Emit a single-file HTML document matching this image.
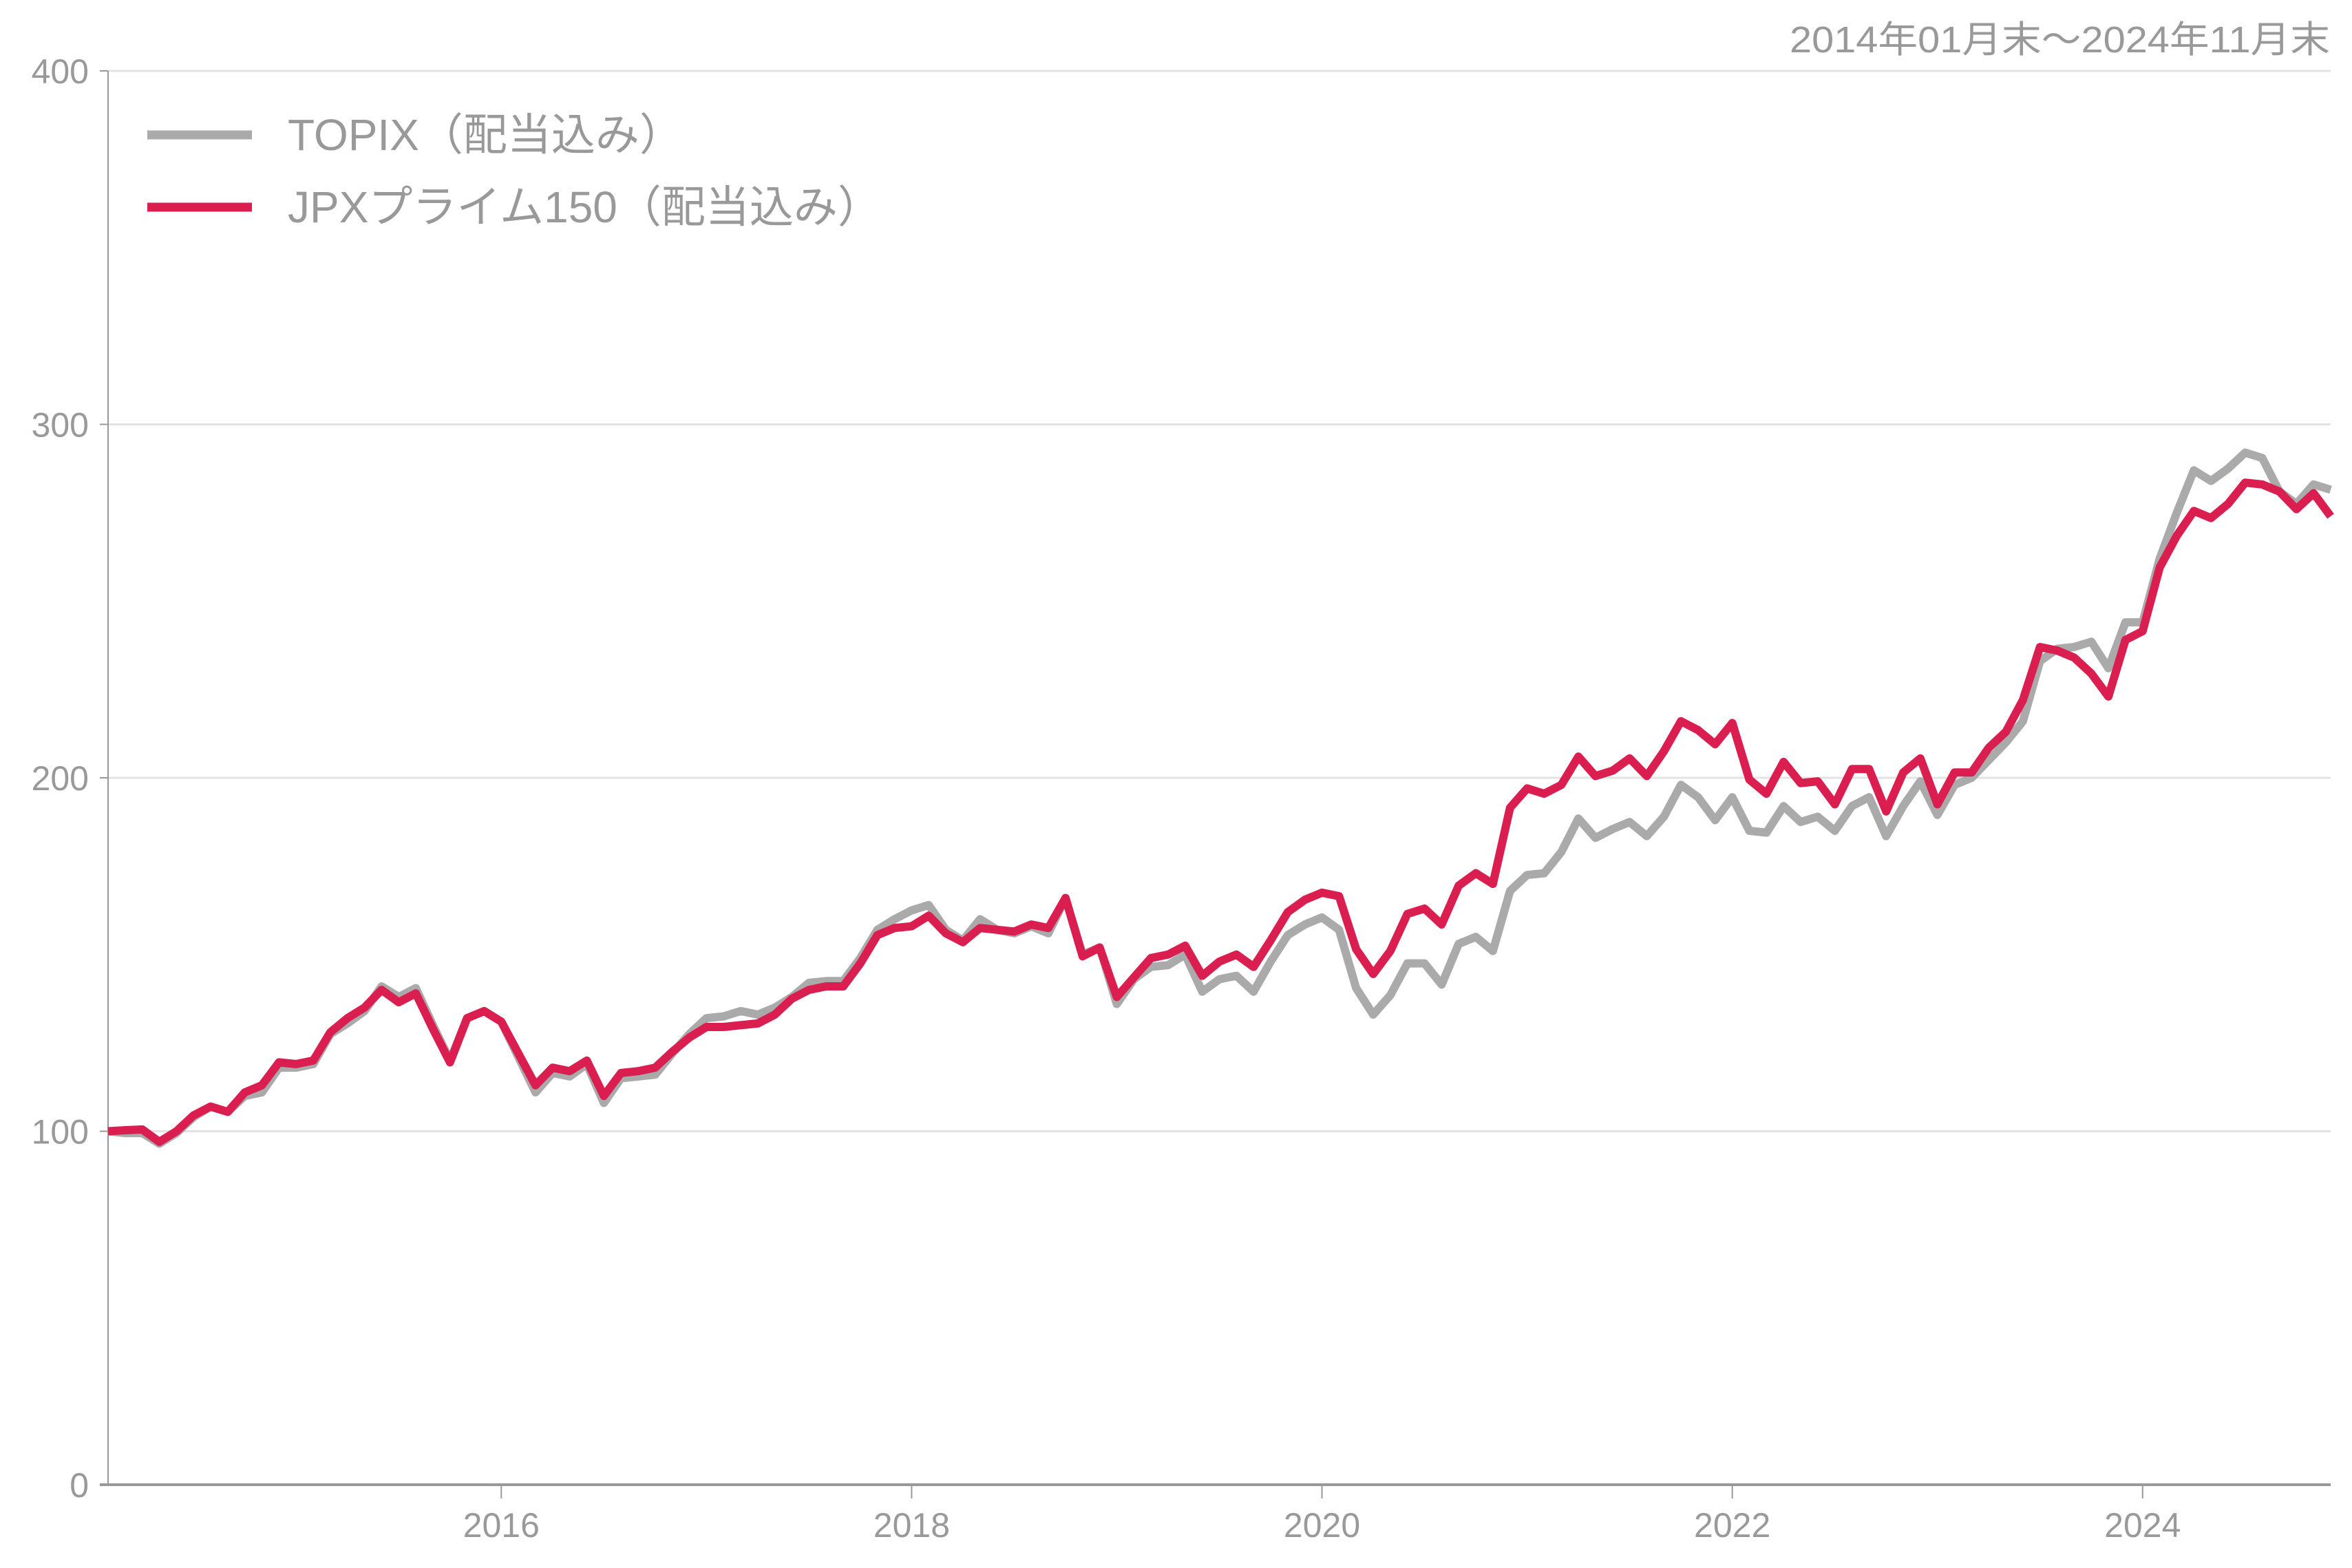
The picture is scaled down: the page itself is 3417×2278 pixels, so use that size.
<!DOCTYPE html>
<html><head><meta charset="utf-8"><style>
html,body{margin:0;padding:0;background:#fff;}
svg{display:block;}
text{font-family:"Liberation Sans","Noto Sans CJK JP",sans-serif;fill:#999;}
</style></head><body>
<svg id="chart" width="3417" height="2278" viewBox="0 0 3417 2278" xmlns="http://www.w3.org/2000/svg">
<text x="3385" y="76" font-size="54" text-anchor="end" textLength="785" lengthAdjust="spacingAndGlyphs">2014年01月末～2024年11月末</text>
<g id="grid"></g>
<g id="axes"></g>
<g id="lines"></g>
<g>
  <line x1="214" y1="196" x2="366" y2="196" stroke="#aaaaaa" stroke-width="13"/>
  <text x="418" y="218" font-size="64">TOPIX（配当込み）</text>
  <line x1="214" y1="301" x2="366" y2="301" stroke="#da1f50" stroke-width="13"/>
  <text x="418" y="323" font-size="64">JPXプライム150（配当込み）</text>
</g>
</svg>
<script>
const topix = [100,99.5,99.5,96.5,99.5,104,107,105.5,110,111,
118,118,119,127.5,130.5,134,141,138,140.5,130,
120,132,134,131,121,111,116.5,115.5,119,108,
115,115.5,116,122,127.5,132,132.5,134,133,135,
138,142,142.5,142.5,149,157,160,162.5,164,157,
154,160,157,156,158,156,166,150,152,136,
143,146.5,147,150,139.5,143,144,139.5,148,155.5,
158.5,160.5,157,140.5,133,138.5,147.5,147.5,141.5,153,
155,151,168,172.5,173,179,188.5,183,185.5,187.5,
183.5,189,198,194.5,188,194.5,185,184.5,192,187.5,
189,185,192,194.5,183.5,192,199,189.5,198,200,
205,210,216,233,236.5,237,238.5,231,244,244,
262,275,287,284,287.5,292,290.5,281,277.5,283,281.5];
const jpx = [100,100.3,100.5,97,100,104.5,107,105.5,111,113,
119.5,119,120,128,132,135,140,136.5,139,129,
119.5,132,134,131,122,113,118,117,120,110,
116.5,117,118,122.5,126.5,129.5,129.5,130,130.5,133,
137.5,140,141,141,147.5,155.5,157.5,158,161,156,
153.5,157.5,157,156.5,158.5,157.5,166,149.5,152,138,
143.5,149,150,152.5,144,148,150,146.5,154,162,
165.5,167.5,166.5,151.5,144.5,151,161.5,163,158.5,169.5,
173,170,191.5,197,195.5,198,206,200.5,202,205.5,
200.5,207.5,216,213.5,209.5,215.5,199.5,195.5,204.5,198.5,
199,192.5,202.5,202.5,190.5,201.5,205.5,192.5,201.5,201.5,
208.5,213,222,237,236,234,229.5,223,239,241.5,
259.5,268.5,275.5,273.5,277.5,283.5,283,281,276,280.5,274];
const yTicks = [0,100,200,300,400];
const xTickYears = [2016,2018,2020,2022,2024];
const startYear = 2014;

const NS = "http://www.w3.org/2000/svg";
const L = 157, R = 3386, Y0 = 2157, Y400 = 103;
const yScale = v => Y0 - (v / 400) * (Y0 - Y400);
const n = topix.length;
const xIdx = i => L + i * (R - L) / (n - 1);
const xYear = yr => xIdx((yr - startYear) * 12 - 1);

const grid = document.getElementById('grid');
const axes = document.getElementById('axes');
const lines = document.getElementById('lines');
function mk(tag, attrs, parent){const e=document.createElementNS(NS,tag);for(const k in attrs)e.setAttribute(k,attrs[k]);parent.appendChild(e);return e;}

yTicks.forEach(v=>{
  const y = yScale(v);
  if (v>0){
    const g = mk('line',{x1:L,y1:y,x2:R,y2:y,stroke:'#e3e3e3','stroke-width':3},grid);
    
    
  }
  const t = mk('line',{x1:L-12,y1:y,x2:L,y2:y,stroke:'#999','stroke-width':2},axes);
  
  
  const lb = mk('text',{x:L-28,y:y+18,'font-size':50,'text-anchor':'end'},axes);
  lb.textContent = v;
  
  
});
const ya = mk('line',{x1:L,y1:Y400,x2:L,y2:Y0,stroke:'#999','stroke-width':2},axes);


const xa = mk('line',{x1:L-12,y1:Y0,x2:R,y2:Y0,stroke:'#999','stroke-width':4},axes);


xTickYears.forEach(yr=>{
  const x = xYear(yr);
  const t = mk('line',{x1:x,y1:Y0,x2:x,y2:Y0+20,stroke:'#999','stroke-width':2},axes);
  
  
  const lb = mk('text',{x:x,y:2233,'font-size':50,'text-anchor':'middle'},axes);
  lb.textContent = yr;
  
  
});
function pts(arr){return arr.map((v,i)=>xIdx(i).toFixed(1)+','+yScale(v).toFixed(1)).join(' ');}
const p1 = mk('polyline',{points:pts(topix),fill:'none',stroke:'#aaaaaa','stroke-width':12,'stroke-linejoin':'round'},lines);


const p2 = mk('polyline',{points:pts(jpx),fill:'none',stroke:'#da1f50','stroke-width':12,'stroke-linejoin':'round'},lines);


</script>
</body></html>
